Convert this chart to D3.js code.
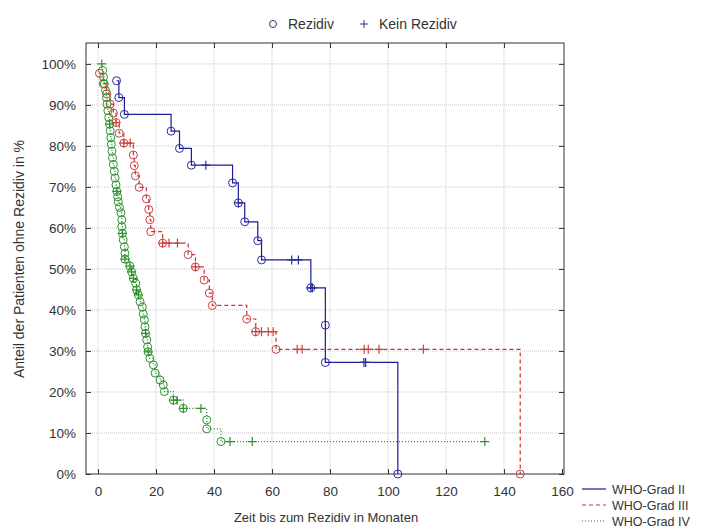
<!DOCTYPE html>
<html>
<head>
<meta charset="utf-8">
<script src="https://cdn.jsdelivr.net/npm/d3@7"></script>
<style>
  body { margin: 0; background: #fff; }
  svg { font-family: "Liberation Sans", Arial, sans-serif; }
</style>
</head>
<body>
<svg id="chart" width="704" height="527"></svg>
<script>
// [months, percent without relapse, marker]  o = Rezidiv, + = kein Rezidiv
const grad2 = [
    [6.4, 95.9, "o"], [7.2, 91.8, "o"], [9.1, 87.7, "o"], [25.2, 83.6, "o"], [28.1, 79.4, "o"],
    [32.2, 75.3, "o"], [37.2, 75.3, "+"], [46.4, 71.0, "o"], [48.4, 66.1, "o+"], [50.6, 61.5, "o"],
    [55.1, 56.9, "o"], [56.4, 52.2, "o"], [66.8, 52.2, "+"], [69.1, 52.2, "+"], [73.4, 45.4, "o+"],
    [73.9, 45.4, "+"], [78.4, 36.3, "o"], [78.4, 27.2, "o"], [91.7, 27.2, "+"], [92.3, 27.2, "+"],
    [103.4, 0, "o"]
];
const grad3 = [
    [0.5, 97.7, "o"], [1.8, 95.2, "o"], [3.0, 92.7, "o"], [4.2, 90.2, "o"], [5.3, 88.0, "o"],
    [6.2, 85.7, "o+"], [7.3, 83.1, "o"], [8.9, 80.7, "o+"], [11.1, 80.7, "+"], [12.2, 77.8, "o"],
    [12.5, 75.2, "o"], [12.9, 72.7, "o"], [14.2, 69.9, "o"], [16.7, 67.1, "o"], [17.5, 64.5, "o"],
    [17.9, 62.0, "o"], [18.2, 59.1, "o"], [22.3, 56.3, "o+"], [24.5, 56.3, "+"], [27.4, 56.3, "+"],
    [31.1, 53.5, "o"], [33.6, 50.5, "o+"], [36.6, 47.3, "o"], [38.4, 44.1, "o"], [39.4, 41.1, "o"],
    [51.3, 37.8, "o"], [54.4, 34.7, "o+"], [56.4, 34.7, "+"], [58.7, 34.7, "+"], [60.4, 34.7, "+"],
    [61.4, 30.4, "o"], [68.7, 30.4, "+"], [70.4, 30.4, "+"], [91.8, 30.4, "+"], [93.2, 30.4, "+"],
    [96.9, 30.4, "+"], [112.2, 30.4, "+"], [145.6, 0, "o"]
];
const grad4 = [
    [1.3, 100, "+"], [1.6, 98.4, "o"], [1.9, 96.8, "o"], [2.2, 95.1, "o"], [2.6, 93.5, "o"],
    [2.9, 91.8, "o"], [3.1, 90.2, "o"], [3.4, 88.6, "o"], [3.7, 86.9, "o"], [4.0, 85.3, "o+"],
    [4.2, 83.7, "o"], [4.4, 82.0, "o"], [4.6, 80.4, "o"], [4.8, 78.7, "o"], [5.0, 77.1, "o"],
    [5.3, 75.5, "o"], [5.6, 73.8, "o"], [5.9, 72.2, "o"], [6.2, 70.5, "o"], [6.5, 68.9, "o+"],
    [6.8, 67.6, "o"], [7.0, 66.4, "o"], [7.4, 65.0, "o"], [7.9, 63.7, "o"], [8.2, 62.0, "o"],
    [8.2, 60.3, "o"], [8.4, 58.7, "o+"], [8.7, 57.1, "o"], [9.1, 55.4, "o"], [9.3, 53.8, "o"],
    [9.3, 52.4, "o+"], [11.0, 50.7, "o+"], [11.6, 49.3, "o+"], [12.2, 47.7, "o+"], [13.0, 46.5, "o"],
    [13.3, 44.9, "o+"], [13.9, 43.7, "o+"], [14.5, 42.0, "o"], [15.3, 40.7, "o"], [15.6, 39.0, "o"],
    [16.0, 37.6, "o"], [16.2, 35.9, "o"], [16.4, 34.3, "o+"], [16.8, 32.7, "o"], [17.1, 31.0, "o"],
    [17.3, 29.8, "o+"], [17.9, 28.2, "o"], [19.1, 26.6, "o"], [19.7, 24.6, "o"], [21.4, 22.9, "o"],
    [22.5, 21.7, "o"], [22.9, 20.1, "o"], [26.0, 18.0, "o+"], [27.3, 18.0, "+"], [29.4, 16.0, "o+"],
    [35.5, 16.0, "+"], [37.5, 13.2, "o"], [37.5, 11.0, "o"], [42.4, 7.9, "o"], [45.5, 7.9, "+"],
    [53.2, 7.9, "+"], [133.4, 7.9, "+"]
];

const groupNames = ["WHO-Grad II", "WHO-Grad III", "WHO-Grad IV"];
const xTicks = [0, 20, 40, 60, 80, 100, 120, 140, 160];
const yTicks = [0, 10, 20, 30, 40, 50, 60, 70, 80, 90, 100];

const groups = [
    { name: groupNames[0], data: grad2, color: "#1c1c96", marker: "#2a2aa0", dash: null },
    { name: groupNames[1], data: grad3, color: "#d03030", marker: "#cc4040", dash: "4,3" },
    { name: groupNames[2], data: grad4, color: "#1f8a1f", marker: "#2e902e", dash: "1,2" }
];

const svg = d3.select("#chart");
const box = { left: 86, right: 564, top: 43, bottom: 474 };

const x = d3.scaleLinear().domain([-4.14, 160.7]).range([box.left, box.right]);
const y = d3.scaleLinear().domain([0, 105.1]).range([box.bottom, box.top]);

// grid
svg.append("g").selectAll("line")
    .data(xTicks.filter(d => d < 160))
    .join("line")
    .attr("x1", d => x(d)).attr("x2", d => x(d))
    .attr("y1", box.top).attr("y2", box.bottom)
    .attr("stroke", "#c8c8c8").attr("stroke-dasharray", "1,1");
svg.append("g").selectAll("line")
    .data(yTicks.filter(d => d > 0))
    .join("line")
    .attr("y1", d => y(d)).attr("y2", d => y(d))
    .attr("x1", box.left).attr("x2", box.right)
    .attr("stroke", "#c8c8c8").attr("stroke-dasharray", "1,1");

// axes with inward ticks
const xAxis = svg.append("g")
    .attr("transform", `translate(0,${box.bottom})`)
    .call(d3.axisBottom(x).tickValues(xTicks).tickSize(-5).tickPadding(12).tickFormat(d => d));
const xTop = svg.append("g")
    .attr("transform", `translate(0,${box.top})`)
    .call(d3.axisTop(x).tickValues(xTicks.filter(d => d < 160)).tickSize(-5).tickFormat(""));
const yAxis = svg.append("g")
    .attr("transform", `translate(${box.left},0)`)
    .call(d3.axisLeft(y).tickValues(yTicks).tickSize(-5).tickPadding(10).tickFormat(d => d + "%"));
const yRight = svg.append("g")
    .attr("transform", `translate(${box.right},0)`)
    .call(d3.axisRight(y).tickValues(yTicks).tickSize(-5).tickFormat(""));

[xAxis, xTop, yAxis, yRight].forEach(g => {
    g.select(".domain").remove();
    g.selectAll(".tick line").attr("stroke", "#333");
    g.selectAll(".tick text").attr("fill", "#333").style("font-size", "13.5px");
});

svg.append("rect")
    .attr("x", box.left).attr("y", box.top)
    .attr("width", box.right - box.left).attr("height", box.bottom - box.top)
    .attr("fill", "none").attr("stroke", "#333");

// curves
const line = d3.line()
    .x(d => x(d[0]))
    .y(d => y(d[1]))
    .curve(d3.curveStepAfter);

groups.forEach(g => {
    svg.append("path")
        .datum(g.data)
        .attr("fill", "none")
        .attr("stroke", g.color)
        .attr("stroke-width", 1.2)
        .attr("stroke-dasharray", g.dash)
        .attr("d", line);

    svg.append("g").selectAll("circle")
        .data(g.data.filter(d => d[2].includes("o")))
        .join("circle")
        .attr("cx", d => x(d[0])).attr("cy", d => y(d[1]))
        .attr("r", 4)
        .attr("fill", "none")
        .attr("stroke", g.marker)
        .attr("stroke-width", 1);

    svg.append("g").selectAll("path")
        .data(g.data.filter(d => d[2].includes("+")))
        .join("path")
        .attr("d", d => {
            const cx = x(d[0]), cy = y(d[1]);
            return `M${cx - 4.5},${cy}H${cx + 4.5}M${cx},${cy - 4.5}V${cy + 4.5}`;
        })
        .attr("stroke", g.marker)
        .attr("stroke-width", 1.2);
});

// axis titles
svg.append("text")
    .attr("x", 326).attr("y", 522)
    .attr("text-anchor", "middle")
    .attr("fill", "#333").style("font-size", "13px")
    .text("Zeit bis zum Rezidiv in Monaten");
svg.append("text")
    .attr("transform", "translate(24,259) rotate(-90)")
    .attr("text-anchor", "middle")
    .attr("fill", "#333").style("font-size", "14px")
    .text("Anteil der Patienten ohne Rezidiv in %");

// top legend
const topLegend = svg.append("g").attr("transform", "translate(0,24)");
topLegend.append("circle").attr("cx", 273).attr("cy", 0).attr("r", 3.5)
    .attr("fill", "none").attr("stroke", "#33337a");
topLegend.append("text").attr("x", 288).attr("y", 5)
    .attr("fill", "#333").style("font-size", "14px").text("Rezidiv");
topLegend.append("path").attr("d", "M360,0H368M364,-4V4").attr("stroke", "#33337a");
topLegend.append("text").attr("x", 379).attr("y", 5)
    .attr("fill", "#333").style("font-size", "14px").text("Kein Rezidiv");

// group legend
const groupLegend = svg.append("g").selectAll("g")
    .data(groups)
    .join("g")
    .attr("transform", (d, i) => `translate(0,${489 + i * 16})`);
groupLegend.append("line")
    .attr("x1", 582).attr("x2", 606)
    .attr("stroke", d => d.color)
    .attr("stroke-width", 1.2)
    .attr("stroke-dasharray", d => d.dash);
groupLegend.append("text")
    .attr("x", 612).attr("y", 4.5)
    .attr("fill", "#333").style("font-size", "12.5px")
    .text(d => d.name);
</script>
</body>
</html>
